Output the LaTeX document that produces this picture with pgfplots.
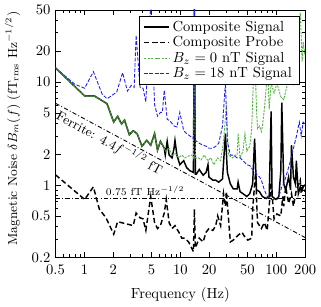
\documentclass[border=0pt]{standalone}
\usepackage{pgfplots}
\pgfplotsset{compat=1.18}
\definecolor{bgreen}{RGB}{85,180,65}
\definecolor{bblue}{RGB}{30,30,240}
\begin{document}
\begin{tikzpicture}
\begin{axis}[
  scale only axis, width=171pt, height=169.5pt,
  xmode=log, ymode=log,
  xmin=0.5, xmax=200, ymin=0.2, ymax=50,
  xtick={0.5,1,2,5,10,20,50,100,200},
  xticklabels={0.5,1,2,5,10,20,50,100,200},
  ytick={0.2,0.5,1,2,5,10,20,50},
  yticklabels={0.2,0.5,1,2,5,10,20,50},
  minor xtick={0.6,0.7,0.8,0.9,3,4,6,7,8,9,30,40,60,70,80,90},
  minor ytick={0.3,0.4,0.6,0.7,0.8,0.9,3,4,6,7,8,9,30,40},
  tick align=inside, major tick length=3.5pt, minor tick length=2pt,
  tick style={black, line width=0.5pt},
  xticklabel style={yshift=-1.5pt},
  xlabel={Frequency (Hz)},
  xlabel style={at={(axis description cs:0.5,-0.15)}, anchor=center},
  ylabel={Magnetic Noise $\delta B_m(f)$ (fT$_{\mathrm{rms}}$ Hz$^{-1/2}$)},
  ylabel style={at={(axis description cs:-0.172,0.52)}, anchor=center, font=\small},
  legend style={at={(0.977,0.977)}, anchor=north east, font=\normalsize,
    draw=black, fill=white, inner xsep=3pt, inner ysep=1.5pt, row sep=-2pt, cells={anchor=west}},
  legend cell align=left,
]
% Composite Signal
\addplot[black, line width=1pt] coordinates {
(0.5,13.7)(1.006,7.33)(1.27,7.33)(1.72,6.17)(2.02,4.09)(2.22,4.66)(2.44,3.92)(2.62,4.27)
(2.94,3.09)(3.23,3.37)(3.54,3.16)(3.98,2.39)(4.47,2.72)(4.91,2.44)(5.39,3.16)(5.78,2.19)
(6.20,2.66)(6.80,2.28)(6.96,1.96)(7.29,2.66)(7.64,1.96)(8.19,1.84)(8.59,2.28)(8.79,2.72)
(9.21,1.96)(9.87,1.58)(10.84,1.73)(11.63,1.48)(12.47,1.39)(13.68,1.33)(14.01,60)(14.34,1.28)
(14.68,1.28)(15.74,1.42)(17.27,1.25)(18.53,1.33)(19.41,1.58)(19.87,1.20)(21.81,1.12)(23.39,1.12)
(25.1,1.07)(27.5,1.15)(29.5,3.16)(30.9,1.33)(33.2,1.03)(35.6,0.923)(39.1,0.923)(40.0,1.07)
(41.9,0.865)(44.9,0.829)(49.3,0.777)(52.9,0.829)(56.7,1.03)(59.4,2.83)(62.2,0.903)(66.8,0.865)
(71.6,0.777)(78.6,0.744)(84.3,0.777)(88.3,5.19)(90.4,0.777)(99.2,0.728)(106.4,0.777)(111.5,1.39)
(114.1,6.30)(119.5,1.03)(125.3,0.903)(134.3,1.20)(140.7,0.903)(144.0,2.44)(150.9,1.20)(158.1,1.03)
(161.8,1.73)(169.6,0.829)(177.7,0.964)(181.8,0.923)(190.5,0.964)(199.6,1.01)
};
\addlegendentry{Composite Signal\hspace{4pt}}
% Composite Probe
\addplot[black, line width=1pt, dash pattern=on 3.5pt off 2pt] coordinates {
(0.5,1.26)(1.006,0.728)(1.24,0.964)(1.43,0.587)(1.68,0.483)(2.02,0.335)(2.22,0.443)(2.68,0.424)
(3.23,0.406)(3.46,0.538)(3.80,0.483)(4.08,0.473)(4.37,0.365)(4.91,0.777)(5.39,0.434)(5.78,0.381)
(6.20,0.406)(6.80,0.538)(7.13,0.728)(7.64,0.434)(8.19,0.381)(8.79,0.406)(9.65,0.350)(10.35,0.307)
(11.10,0.307)(12.18,0.282)(13.68,0.227)(14.01,0.587)(14.34,0.247)(15.74,0.307)(17.27,0.282)
(18.53,0.350)(19.87,0.381)(21.81,0.365)(23.39,0.406)(24.50,0.504)(26.3,0.406)(28.2,0.829)
(29.5,0.626)(30.2,0.865)(33.2,0.282)(35.6,0.294)(40.0,0.328)(43.9,0.350)(47.1,0.314)(50.5,0.294)
(55.4,0.307)(56.7,0.587)(60.8,1.33)(63.7,0.434)(69.9,0.381)(75.0,0.434)(80.4,0.365)(88.3,1.07)
(94.7,0.473)(101.6,0.527)(111.5,0.504)(116.8,0.777)(119.5,0.626)(125.3,0.964)(134.3,0.668)
(144.0,0.829)(150.9,0.626)(161.8,0.903)(177.7,1.12)(181.8,0.829)(190.5,0.964)(199.6,0.865)
};
\addlegendentry{Composite Probe}
% B_z = 0 nT
\addplot[bgreen, line width=0.6pt, dash pattern=on 1.6pt off 0.8pt] coordinates {
(0.5,13.7)(1.006,7.33)(1.27,7.33)(1.72,6.17)(2.02,4.09)(2.22,4.66)(2.44,3.92)(2.62,4.27)
(2.94,3.09)(3.23,3.37)(3.54,3.16)(3.98,2.39)(4.47,2.72)(4.91,2.44)(5.39,3.16)(5.78,2.19)
(6.20,2.66)(6.80,2.28)(6.96,2.14)(7.64,2.28)(8.19,1.92)(8.79,2.05)(9.65,1.84)(10.35,1.96)
(11.10,1.84)(12.18,1.92)(13.06,1.96)(13.68,1.84)(14.01,60)(14.34,1.84)(15.38,1.84)(16.49,1.76)
(17.68,1.96)(19.41,1.73)(20.82,1.84)(22.33,1.58)(24.50,1.84)(26.3,1.73)(28.2,2.66)(30.2,6.03)
(31.7,1.96)(34.8,1.84)(37.3,1.96)(39.1,1.96)(40.0,3.16)(41.9,1.84)(44.9,2.14)(47.1,3.16)
(49.3,2.14)(52.9,2.39)(55.4,3.52)(56.7,6.72)(59.4,22)(62.2,5.42)(63.7,3.52)(66.8,3.75)
(69.9,3.30)(71.6,3.75)(75.0,5.42)(78.6,8.90)(80.4,18.5)(84.3,5.42)(88.3,9.70)(94.7,7.82)
(101.6,9.70)(111.5,7.17)(119.5,6.72)(128.2,8.90)(140.7,13.7)(150.9,9.70)(161.8,18.5)
(177.7,46.9)(186.1,15.9)(190.5,24.5)(199.6,17.7)
};
\addlegendentry{$B_z = 0$ nT Signal}
% B_z = 18 nT
\addplot[bblue, line width=0.6pt, dash pattern=on 2.5pt off 1.2pt] coordinates {
(0.5,13.7)(0.797,9.5)(1.006,8.71)(1.24,12.6)(1.53,7.65)(1.72,6.87)(2.17,7.99)(2.50,12.3)
(2.81,8.16)(3.08,9.29)(3.30,8.90)(3.46,28.5)(3.80,8.90)(4.08,8.71)(4.37,6.44)(4.91,60)
(5.39,6.03)(5.78,4.66)(6.20,5.08)(6.49,5.08)(6.80,8.34)(7.29,4.36)(7.82,4.18)(8.59,3.75)
(9.21,3.67)(9.87,5.08)(10.84,3.37)(11.63,3.16)(12.47,3.02)(13.68,2.83)(14.01,60)(14.34,2.72)
(15.74,2.55)(17.27,2.44)(18.53,2.39)(19.87,2.28)(21.81,2.28)(23.39,2.39)(25.1,2.55)(27.5,3.75)
(29.5,9.9)(30.9,2.66)(33.2,1.96)(35.6,1.96)(39.1,1.84)(41.9,1.84)(44.9,1.73)(49.3,1.58)
(52.9,1.55)(56.7,1.42)(62.2,1.28)(66.8,1.20)(69.9,1.12)(75.0,0.903)(80.4,0.777)(88.3,0.728)
(94.7,0.728)(101.6,0.728)(106.4,0.777)(114.1,0.964)(119.5,1.03)(128.2,1.28)(140.7,1.73)
(150.9,2.28)(161.8,2.96)(173.6,4.09)(181.8,3.02)(190.5,4.09)(199.6,3.92)
};
\addlegendentry{$B_z = 18$ nT Signal}
% green overlay on the shared low-frequency part
\addplot[bgreen!70!black, line width=1pt, opacity=0.6, forget plot] coordinates {
(0.5,13.7)(1.006,7.33)(1.27,7.33)(1.72,6.17)(2.02,4.09)(2.22,4.66)(2.44,3.92)(2.62,4.27)
(2.94,3.09)(3.23,3.37)(3.54,3.16)(3.98,2.39)(4.47,2.72)(4.91,2.44)(5.39,3.16)(5.78,2.19)
(6.20,2.66)(6.80,2.28)
};
% reference lines
\addplot[black, line width=0.6pt, dash pattern=on 3pt off 1.5pt on 0.6pt off 1.5pt, forget plot] coordinates {(0.5,6.22)(200,0.311)};
\addplot[black, line width=0.6pt, dash pattern=on 3pt off 1.5pt on 0.6pt off 1.5pt, forget plot] coordinates {(0.5,0.75)(200,0.75)};
\node[rotate=-28.3, anchor=north west, font=\small, inner sep=1pt] at (axis cs:0.562,5.87) {Ferrite: $4.4f^{-1/2}$ fT};
\node[anchor=south west, font=\scriptsize, inner sep=1.5pt] at (axis cs:1.58,0.75) {0.75 fT Hz$^{-1/2}$};
\end{axis}
\end{tikzpicture}
\end{document}
